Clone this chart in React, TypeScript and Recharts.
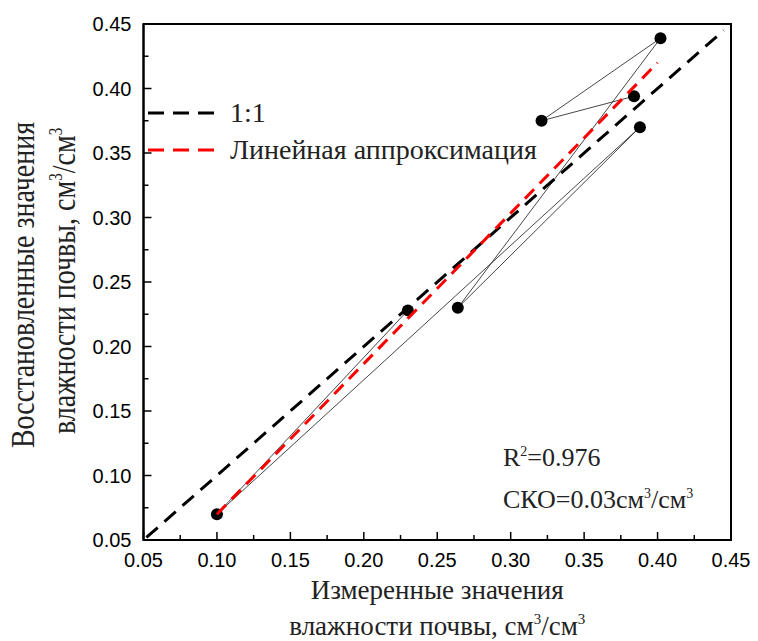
import {
  Legend,
  ReferenceArea,
  Scatter,
  ScatterChart,
  XAxis,
  YAxis,
} from 'recharts'

// measured vs restored soil moisture, in the order the thin line joins them
const measured = [0.23, 0.1, 0.388, 0.264, 0.402, 0.321, 0.384]
const restored = [0.228, 0.07, 0.37, 0.23, 0.439, 0.375, 0.394]

// 1:1 reference line
const oneToOneX = [0.052, 0.445]
// linear fit
const fitX = [0.1, 0.4]
const fitY = [0.07, 0.42]

const axisTicks = [
  0.05, 0.075, 0.1, 0.125, 0.15, 0.175, 0.2, 0.225, 0.25, 0.275, 0.3, 0.325,
  0.35, 0.375, 0.4, 0.425, 0.45,
]

const legendLabels = ['1:1', 'Линейная аппроксимация']
const legendColors = ['#000000', '#ff0000']

const r2Text = '=0.976'
const rmseText = 'СКО=0.03см'

const observed = measured.map((x, i) => ({ x, y: restored[i] }))
const oneToOne = oneToOneX.map((x) => ({ x, y: x }))
const fitLine = fitX.map((x, i) => ({ x, y: fitY[i] }))

const SERIF = '"Liberation Serif", "Times New Roman", serif'
const SANS = '"Liberation Sans", Arial, sans-serif'

const isMajor = (v: number) => Math.round(v * 1000) % 50 === 0

function YTick({ x, y, payload }: any) {
  const axisX = x + 12
  const major = isMajor(payload.value)
  return (
    <g>
      <line x1={axisX} y1={y} x2={axisX + (major ? 8 : 5)} y2={y} stroke="#000" strokeWidth={1.5} />
      {major && (
        <text x={x} y={y} dy="0.36em" textAnchor="end" fontFamily={SANS} fontSize={20} fill="#000">
          {payload.value.toFixed(2)}
        </text>
      )}
    </g>
  )
}

function XTick({ x, y, payload }: any) {
  const axisY = y - 6
  const major = isMajor(payload.value)
  return (
    <g>
      <line x1={x} y1={axisY} x2={x} y2={axisY - (major ? 8 : 5)} stroke="#000" strokeWidth={1.5} />
      {major && (
        <text x={x} y={axisY + 27} textAnchor="middle" fontFamily={SANS} fontSize={20} fill="#000">
          {payload.value.toFixed(2)}
        </text>
      )}
    </g>
  )
}

function XTitle({ viewBox }: any) {
  const cx = viewBox.x + viewBox.width / 2
  return (
    <g fontFamily={SERIF} fontSize={27} fill="#222" textAnchor="middle">
      <text x={cx} y={599}>Измеренные значения</text>
      <text x={cx} y={635}>
        влажности почвы, см<tspan dy={-11} fontSize={15}>3</tspan>
        <tspan dy={11}>/см</tspan>
        <tspan dy={-11} fontSize={15}>3</tspan>
      </text>
    </g>
  )
}

function YTitle() {
  return (
    <g fontFamily={SERIF} fontSize={28} fill="#222" textAnchor="middle">
      <text x={0} y={0} transform="translate(34, 285) scale(1.22, 1) rotate(-90)">
        Восстановленные значения
      </text>
      <text x={0} y={0} transform="translate(75, 281) scale(1.22, 1) rotate(-90)">
        влажности почвы, см<tspan dy={-11} fontSize={15}>3</tspan>
        <tspan dy={11}>/см</tspan>
        <tspan dy={-11} fontSize={15}>3</tspan>
      </text>
    </g>
  )
}

function LegendBox() {
  return (
    <div>
      {legendLabels.map((label, i) => (
        <div key={label} style={{ display: 'flex', alignItems: 'center', height: 37 }}>
          <svg width={84} height={10}>
            <line
              x1={2}
              y1={5}
              x2={74}
              y2={5}
              stroke={legendColors[i]}
              strokeWidth={3}
              strokeDasharray="16 9"
            />
          </svg>
          <span style={{ fontFamily: SERIF, fontSize: 28, color: '#222', lineHeight: '37px' }}>
            {label}
          </span>
        </div>
      ))}
    </div>
  )
}

const dot = (props: any) => <circle cx={props.cx} cy={props.cy} r={6} fill="#000" />
const noDot = () => <g />

export default function App() {
  return (
    <div style={{ position: 'absolute', left: 0, top: 0, width: 758, height: 641, background: '#fff' }}>
      <ScatterChart width={758} height={641} margin={{ top: 24, right: 27, bottom: 0, left: 0 }}>
        <XAxis
          type="number"
          dataKey="x"
          domain={[0.05, 0.45]}
          ticks={axisTicks}
          interval={0}
          tickSize={0}
          tickMargin={6}
          tick={<XTick />}
          height={101}
          axisLine={{ stroke: '#000', strokeWidth: 2 }}
          allowDataOverflow
          label={<XTitle />}
        />
        <YAxis
          type="number"
          dataKey="y"
          domain={[0.05, 0.45]}
          ticks={axisTicks}
          interval={0}
          tickSize={0}
          tickMargin={12}
          tick={<YTick />}
          width={143.5}
          axisLine={{ stroke: '#000', strokeWidth: 2 }}
          allowDataOverflow
          label={<YTitle />}
        />
        <ReferenceArea
          x1={0.05}
          x2={0.45}
          y1={0.05}
          y2={0.45}
          fill="none"
          stroke="#000"
          strokeWidth={2}
        />
        <Legend
          layout="vertical"
          verticalAlign="middle"
          align="center"
          content={<LegendBox />}
          wrapperStyle={{ left: 146, top: 94, width: 440 }}
        />
        <Scatter
          name="points"
          data={observed}
          fill="#000"
          line={{ stroke: '#333', strokeWidth: 0.9 }}
          lineType="joint"
          shape={dot}
          legendType="none"
          isAnimationActive={false}
        />
        <Scatter
          name="1:1"
          data={oneToOne}
          fill="#000"
          line={{ stroke: '#000', strokeWidth: 3, strokeDasharray: '15 9' }}
          lineType="joint"
          shape={noDot}
          isAnimationActive={false}
        />
        <Scatter
          name="Линейная аппроксимация"
          data={fitLine}
          fill="#ff0000"
          line={{ stroke: '#ff0000', strokeWidth: 3, strokeDasharray: '13 8' }}
          lineType="joint"
          shape={noDot}
          isAnimationActive={false}
        />
      </ScatterChart>
      <div
        style={{
          position: 'absolute',
          left: 503,
          top: 434,
          fontFamily: SERIF,
          fontSize: 26,
          color: '#222',
          lineHeight: '36px',
          whiteSpace: 'nowrap',
        }}
      >
        <div>
          R<sup style={{ fontSize: 14 }}>2</sup>
          {r2Text}
        </div>
        <div>
          {rmseText}
          <sup style={{ fontSize: 14 }}>3</sup>/см<sup style={{ fontSize: 14 }}>3</sup>
        </div>
      </div>
    </div>
  )
}
